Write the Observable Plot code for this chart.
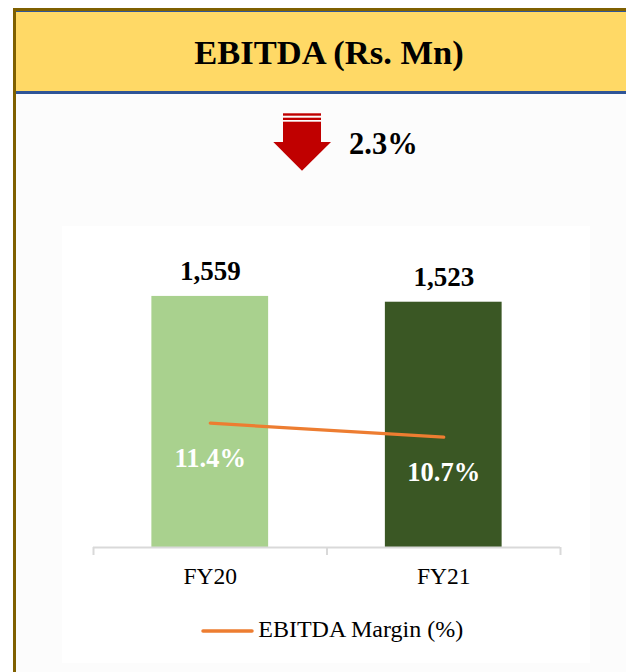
<!DOCTYPE html>
<html>
<head>
<meta charset="utf-8">
<script src="https://cdn.jsdelivr.net/npm/d3@7"></script>
<script src="https://cdn.jsdelivr.net/npm/@observablehq/plot@0.6"></script>
<style>
  html, body { margin: 0; padding: 0; background: #ffffff; width: 626px; height: 672px; overflow: hidden; }
  body { position: relative; font-family: "Liberation Serif", "Times New Roman", serif; }
  .frame { position: absolute; left: 13px; top: 8px; width: 640px; height: 700px;
           border-top: 3px solid #7F6000; border-left: 3px solid #7F6000; background: #fcfcfc; }
  .header { position: absolute; left: 16px; top: 11px; width: 620px; height: 79px;
            background: #FFD966; border-top: 1.5px solid #2F5597; border-bottom: 3px solid #2F5597; }
  .title { position: absolute; left: 0; width: 658px; top: 35.4px; text-align: center;
           font-size: 34.5px; line-height: 34.5px; font-weight: bold; color: #000; white-space: nowrap; }
  .change { position: absolute; left: 349px; top: 129.2px; font-size: 30.5px; line-height: 30.5px;
            font-weight: bold; color: #000; white-space: nowrap; }
  .arrow { position: absolute; left: 0; top: 0; }
  .chartbox { position: absolute; left: 62px; top: 226px; width: 528px; height: 437px; background: #ffffff; }
  .legend { position: relative; width: 528px; height: 57px; }
  .legend svg { position: absolute; left: 138.7px; top: 21.7px; }
  .legend span { position: absolute; left: 196.3px; top: 11.2px; font-size: 24px; line-height: 24px; color: #000; white-space: nowrap; }
</style>
</head>
<body>
<div class="frame"></div>
<div class="header"></div>
<div class="title" id="title"></div>
<svg class="arrow" width="626" height="200">
  <rect x="283" y="113.3" width="38" height="2.4" fill="#C00000"></rect>
  <rect x="283" y="117.7" width="38" height="2.3" fill="#C00000"></rect>
  <rect x="283" y="121.7" width="38" height="20.6" fill="#C00000"></rect>
  <polygon points="273.3,142 331,142 302,170.7" fill="#C00000"></polygon>
</svg>
<div class="change" id="change"></div>
<div class="chartbox" id="chart"></div>
<script>
const categories = ["FY20", "FY21"];
const ebitda = [1559, 1523];
const margin = [11.4, 10.7];
const barColors = ["#A9D18E", "#3A5724"];
const titleText = "EBITDA (Rs. Mn)";
const changeText = "2.3%";
const legendLabel = "EBITDA Margin (%)";
const lineColor = "#ED7D31";

document.getElementById("title").textContent = titleText;
document.getElementById("change").textContent = changeText;

// secondary (margin) axis mapped onto the primary y domain
const yMax = 1900;
const marginAxis = d3.scaleLinear().domain([5.18, 20.49]).range([0, yMax]);

const data = categories.map((c, i) => ({
  c, i, ebitda: ebitda[i], margin: margin[i], my: marginAxis(margin[i])
}));

const serif = "Liberation Serif, Times New Roman, serif";

const plot = Plot.plot({
  width: 528,
  height: 380,
  marginLeft: 31,
  marginRight: 30,
  marginTop: 15,
  marginBottom: 59,
  style: { background: "transparent", fontFamily: serif },
  x: { type: "linear", domain: [0, categories.length], axis: null },
  y: { domain: [0, yMax], axis: null },
  color: { domain: categories, range: barColors },
  marks: [
    Plot.rect(data, { x1: d => d.i + 0.25, x2: d => d.i + 0.75, y1: 0, y2: "ebitda", fill: "c" }),
    Plot.ruleY([0], { stroke: "#d9d9d9", strokeWidth: 2 }),
    Plot.axisX({ ticks: d3.range(categories.length + 1), tickSize: 8, tickFormat: () => "", stroke: "#d9d9d9", strokeWidth: 2 }),
    Plot.text(data, { x: d => d.i + 0.5, y: "ebitda", text: d => d3.format(",")(d.ebitda),
      dy: -24.6, fontSize: 27, fontWeight: "bold", fill: "#000", fontFamily: serif }),
    Plot.line(data, { x: d => d.i + 0.5, y: "my", stroke: lineColor, strokeWidth: 3.2, strokeLinecap: "round" }),
    Plot.text(data, { x: d => d.i + 0.5, y: "my", text: d => d.margin.toFixed(1) + "%",
      dy: 35.7, fontSize: 26.5, fontWeight: "bold", fill: "#ffffff", fontFamily: serif }),
    Plot.text(data, { x: d => d.i + 0.5, y: 0, text: "c", dy: 28.7, fontSize: 23.5, fill: "#000", fontFamily: serif })
  ]
});

const box = document.getElementById("chart");
box.appendChild(plot);
const legend = document.createElement("div");
legend.className = "legend";
legend.innerHTML = `<svg width="53" height="6"><line x1="2" y1="3" x2="51" y2="3" stroke="${lineColor}" stroke-width="3.5" stroke-linecap="round"></line></svg><span></span>`;
legend.querySelector("span").textContent = legendLabel;
box.appendChild(legend);
</script>
</body>
</html>
